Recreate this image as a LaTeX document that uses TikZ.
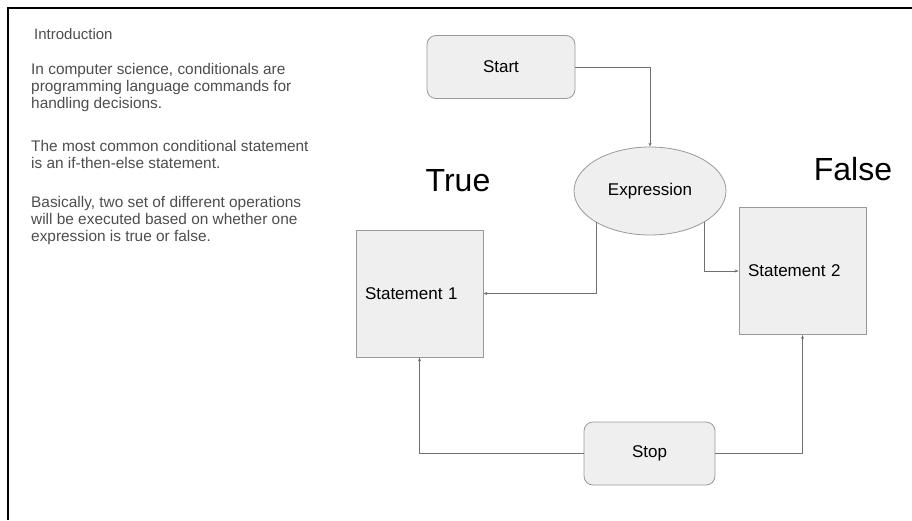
\documentclass[tikz,border=0pt]{standalone}
\usepackage{fontspec}
\setmainfont{Liberation Sans}
\usetikzlibrary{shapes.geometric,arrows.meta}

\definecolor{boxfill}{HTML}{EFEFEF}
\definecolor{boxline}{HTML}{999999}
\definecolor{linkgray}{HTML}{707070}
\definecolor{notegray}{HTML}{4D4D4D}

\begin{document}
\begin{tikzpicture}[
    x=1pt, y=-1pt,
    every node/.style={anchor=center},
    terminal/.style={draw=boxline, fill=boxfill, line width=0.8pt, rounded corners=9pt, font=\fontsize{17}{20}\selectfont},
    decision/.style={ellipse, draw=boxline, fill=boxfill, line width=0.8pt, minimum width=152pt, minimum height=88pt, font=\fontsize{17}{20}\selectfont},
    statement/.style={draw=boxline, fill=boxfill, line width=0.8pt, minimum width=127pt, minimum height=127pt, inner sep=9pt, text width=109pt, align=left, font=\fontsize{17}{20}\selectfont},
    note/.style={anchor=north west, inner sep=0pt, align=left, text=notegray, font=\fontsize{15.4}{17}\selectfont},
    branch/.style={font=\fontsize{32}{36}\selectfont},
    arrow/.style={-{Stealth[length=4pt, width=3pt]}, draw=linkgray, line width=0.8pt}
    ]

\useasboundingbox (0,0) rectangle (912,520);

% Frame
\draw[line width=2pt] (8,520) -- (8,8) -- (912,8);

% Introduction text
\node[note, font=\fontsize{15}{17}\selectfont] (intro) at (34,28) {Introduction};
\node[note] (para1) at (31,63) {In computer science, conditionals are\\programming language commands for\\handling decisions.};
\node[note] (para2) at (31,140) {The most common conditional statement\\is an if-then-else statement.};
\node[note] (para3) at (31,196) {Basically, two set of different operations\\will be executed based on whether one\\expression is true or false.};

% Flow chart
\node[terminal, minimum width=148pt, minimum height=63pt] (start) at (501,67) {Start};
\node[decision] (expr) at (650,191) {Expression};
\node[statement] (stmt1) at (419.5,293.5) {Statement 1};
\node[statement] (stmt2) at (802.5,271) {Statement 2};
\node[terminal, minimum width=131pt, minimum height=63pt] (stop) at (649.5,453.5) {Stop};

% Branch labels
\node[branch] (true) at (458,181) {True};
\node[branch] (false) at (853,169) {False};

% Connectors
\draw[arrow] (start.east) -| (expr.north);
\draw[arrow] (expr.south west) |- (stmt1.east);
\draw[arrow] (expr.south east) |- (stmt2.west);
\draw[arrow] (stop.west) -| (stmt1.south);
\draw[arrow] (stop.east) -| (stmt2.south);

\end{tikzpicture}
\end{document}
